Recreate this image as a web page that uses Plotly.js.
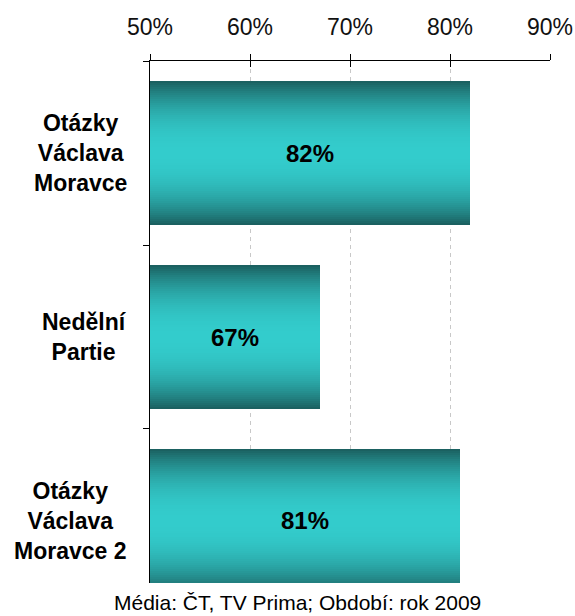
<!DOCTYPE html>
<html>
<head>
<meta charset="utf-8">
<script src="https://cdn.plot.ly/plotly-3.0.1.min.js"></script>
<style>html,body{margin:0;padding:0;background:#fff;}#chart{width:575px;height:616px;}</style>
</head>
<body>
<div id="chart"></div>
<script>
// ---- data ----
const categories = ["Otázky<br>Václava<br>Moravce", "Nedělní<br>Partie", "Otázky<br>Václava<br>Moravce 2"];
const values = [82, 67, 81];
const valueLabels = ["82%", "67%", "81%"];
const tickValues = [50, 60, 70, 80, 90];
const tickLabels = ["50%", "60%", "70%", "80%", "90%"];
const caption = "Média: ČT, TV Prima; Období: rok 2009";

// ---- gradient bars (stacked overlay layers) ----
const BAR_W = 0.78;
const N = 36;
const dark = [26, 94, 94], bright = [51, 204, 204];
const traces = [];
for (let k = 0; k < N; k++) {
  const d = (N - k - 0.5) / N;           // distance from centre (0..1)
  const f = Math.max(0, 1 - Math.pow(d, 2.2));
  const c = dark.map((v, i) => Math.round(v + (bright[i] - v) * f));
  traces.push({
    type: 'bar', orientation: 'h',
    x: values, y: categories,
    width: BAR_W * (N - k) / N,
    marker: {color: `rgb(${c[0]},${c[1]},${c[2]})`, line: {width: 0}},
    hoverinfo: 'skip', showlegend: false
  });
}
// helper trace for the second (inside-tick) axis
traces.push({type: 'scatter', mode: 'markers', x: [tickValues[0]], y: [categories[0]],
  xaxis: 'x2', marker: {opacity: 0}, hoverinfo: 'skip', showlegend: false});

const annotations = [];
categories.forEach((cat, i) => {
  annotations.push({xref: 'paper', yref: 'y', x: 0, y: i, xshift: -21,
    xanchor: 'right', yanchor: 'middle', align: 'center', showarrow: false,
    text: cat, font: {family: 'Liberation Sans, Arial, sans-serif', size: 23, color: '#000', weight: 'bold'}});
  annotations.push({xref: 'x', yref: 'y', x: (tickValues[0] + values[i]) / 2, y: i,
    xanchor: 'center', yanchor: 'middle', showarrow: false,
    text: '<b>' + valueLabels[i] + '</b>',
    font: {family: 'Liberation Sans, Arial, sans-serif', size: 24, color: '#000'}});
});
annotations.push({xref: 'paper', yref: 'paper', x: 0.3675, y: -0.0383,
  xanchor: 'center', yanchor: 'middle', showarrow: false, text: caption,
  font: {family: 'Liberation Sans, Arial, sans-serif', size: 21, color: '#000'}});

const layout = {
  width: 575, height: 616,
  margin: {l: 150, r: 25, t: 61, b: 33, pad: 0},
  paper_bgcolor: '#fff', plot_bgcolor: '#fff',
  barmode: 'overlay', bargap: 0,
  font: {family: 'Liberation Sans, Arial, sans-serif', color: '#000'},
  xaxis: {
    side: 'top', range: [50, 90], autorange: false,
    tickvals: tickValues, ticktext: tickLabels,
    ticks: 'outside', ticklen: 6, tickcolor: '#000', tickwidth: 1,
    showline: true, linecolor: '#000', linewidth: 1,
    showgrid: true, gridcolor: '#c8c8c8', gridwidth: 1, griddash: '4px,4px',
    zeroline: false, tickfont: {size: 23, color: '#111'}, ticklabelstandoff: 10
  },
  xaxis2: {
    overlaying: 'x', matches: 'x', side: 'top', range: [50, 90],
    tickvals: tickValues, ticks: 'inside', ticklen: 6, tickcolor: '#000',
    showticklabels: false, showgrid: false, showline: false, zeroline: false
  },
  yaxis: {
    type: 'category', categoryorder: 'array', categoryarray: categories,
    range: [2.337, -0.5], autorange: false,
    showticklabels: false, ticks: 'outside', tickson: 'boundaries', ticklen: 6, tickcolor: '#000',
    showline: true, linecolor: '#000', linewidth: 1, showgrid: false, zeroline: false
  },
  annotations: annotations
};

Plotly.newPlot('chart', traces, layout, {displayModeBar: false, staticPlot: true});
</script>
</body>
</html>
